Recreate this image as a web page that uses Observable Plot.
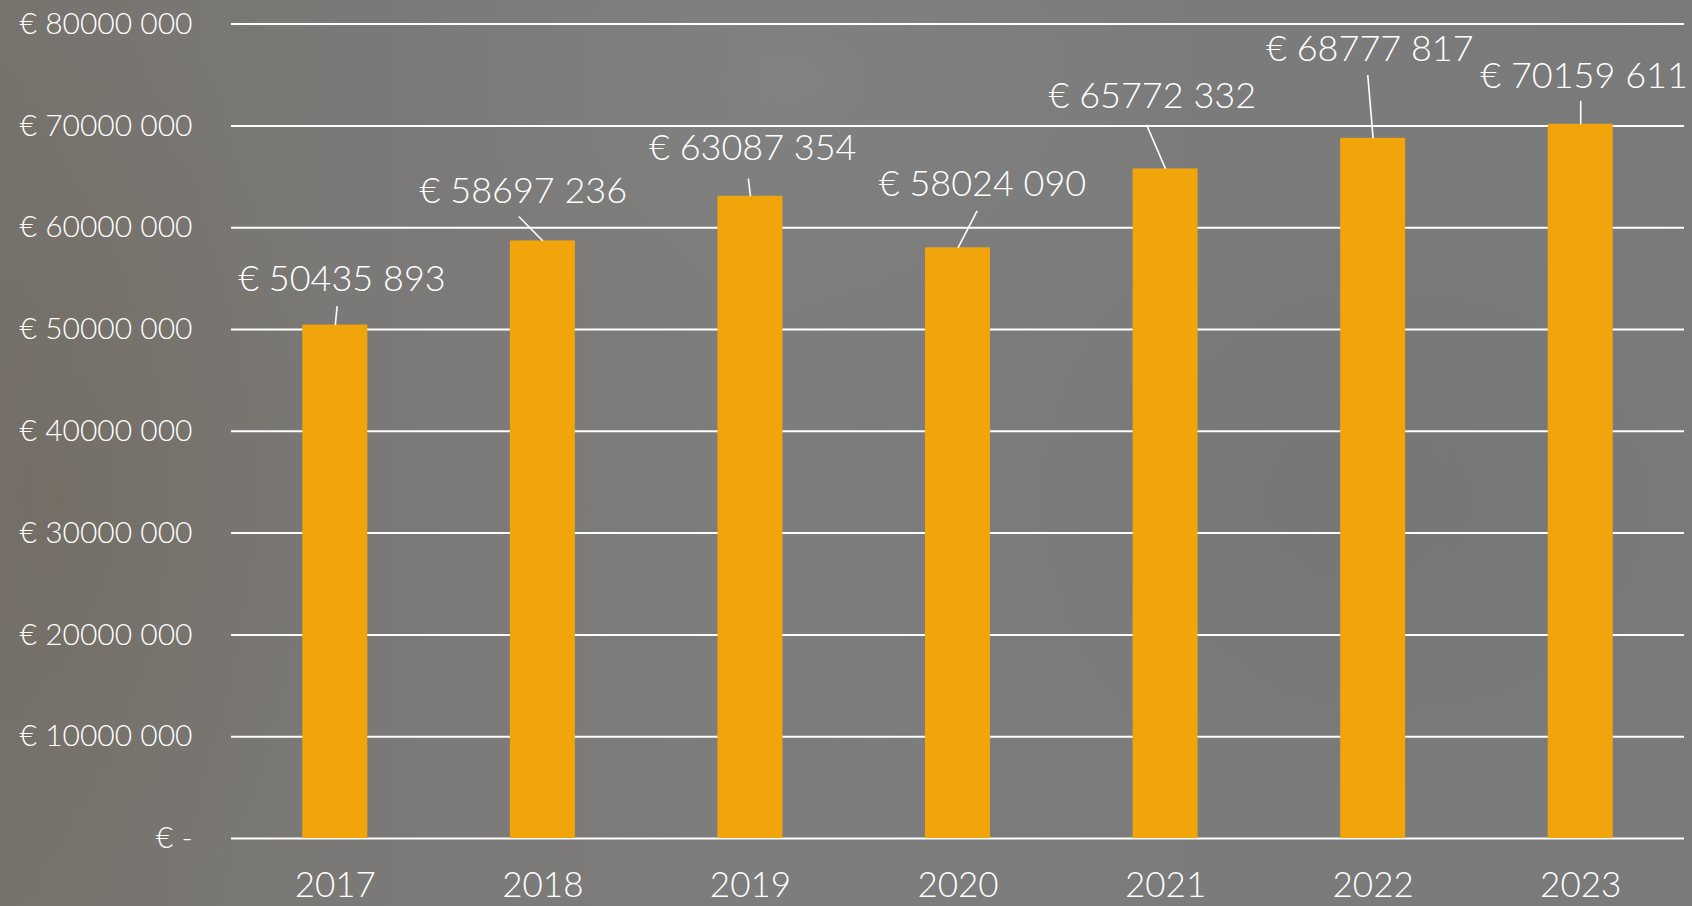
<!DOCTYPE html>
<html>
<head>
<meta charset="utf-8">
<script src="https://cdn.jsdelivr.net/npm/d3@7"></script>
<script src="https://cdn.jsdelivr.net/npm/@observablehq/plot@0.6"></script>
<style>
  html, body { margin: 0; padding: 0; }
  body {
    width: 1692px; height: 906px; overflow: hidden;
    background:
      radial-gradient(ellipse 300px 500px at 60px 500px, rgba(110,100,85,0.35), rgba(110,100,85,0) 100%),
      radial-gradient(ellipse 400px 250px at 800px 80px, rgba(140,140,140,0.25), rgba(140,140,140,0) 100%),
      radial-gradient(ellipse 350px 300px at 1350px 500px, rgba(105,105,105,0.25), rgba(105,105,105,0) 100%),
      linear-gradient(90deg, #77736d 0%, #7a7875 14%, #7d7d7d 45%, #7b7b7b 75%, #7a7a7a 100%);
    font-family: Lato, "Open Sans", sans-serif;
  }
  #chart svg { display: block; background: transparent; }
</style>
</head>
<body>
<div id="chart"></div>
<script>
// ---- data ----
const years = [2017, 2018, 2019, 2020, 2021, 2022, 2023];
const revenue = [50435893, 58697236, 63087354, 58024090, 65772332, 68777817, 70159611];
const yTicks = [0, 10000000, 20000000, 30000000, 40000000, 50000000, 60000000, 70000000, 80000000];

// ---- annotation layout (label placement, in data units) ----
const labelDX = [0.032, -0.094, 0.011, 0.118, -0.064, -0.016, 0.016];
const labelY = [54.9e6, 63.56e6, 67.8e6, 64.2e6, 72.9e6, 77.54e6, 74.9e6];
const leaderDX = [0.009, -0.116, -0.01, 0.092, -0.092, -0.026, 0];
const leaderY = [52.29e6, 61.1e6, 64.83e6, 61.65e6, 70.13e6, 75.0e6, 72.46e6];

const barHalf = 0.1565;
const fmt = v => v === 0 ? "€ -" : `€ ${Math.floor(v / 1000)} ${String(Math.round(v % 1000)).padStart(3, "0")}`;

const rows = years.map((y, i) => ({
  year: y, value: revenue[i],
  lx: y + labelDX[i], ly: labelY[i],
  sx: y + leaderDX[i], sy: leaderY[i]
}));

const chart = Plot.plot({
  width: 1692,
  height: 906,
  marginLeft: 231,
  marginRight: 8,
  marginTop: 23.6,
  marginBottom: 68,
  style: { background: "transparent", fontFamily: "Lato, 'Open Sans', sans-serif", color: "white" },
  x: { type: "linear", domain: [2016.5, 2023.5], axis: null },
  y: { domain: [0, 80000000], axis: null },
  marks: [
    Plot.gridY(yTicks, { stroke: "white", strokeOpacity: 1, strokeWidth: 2 }),
    Plot.rectY(rows, {
      x1: d => d.year - barHalf, x2: d => d.year + barHalf,
      y1: 0, y2: "value", fill: "#F2A50A"
    }),
    Plot.axisY(yTicks, {
      tickSize: 0, tickPadding: 39, tickFormat: fmt,
      fontSize: 30, fill: "white", fontWeight: 300, label: null
    }),
    Plot.axisX(years, {
      tickSize: 0, tickPadding: 34, tickFormat: d => String(d),
      fontSize: 35, fill: "white", fontWeight: 300, label: null
    }),
    Plot.link(rows, {
      x1: "sx", y1: "sy", x2: "year", y2: "value",
      stroke: "white", strokeWidth: 1.6
    }),
    Plot.text(rows, {
      x: "lx", y: "ly", text: d => fmt(d.value),
      fill: "white", fontSize: 36, fontWeight: 300, textAnchor: "middle"
    })
  ]
});
document.getElementById("chart").appendChild(chart);
</script>
</body>
</html>
